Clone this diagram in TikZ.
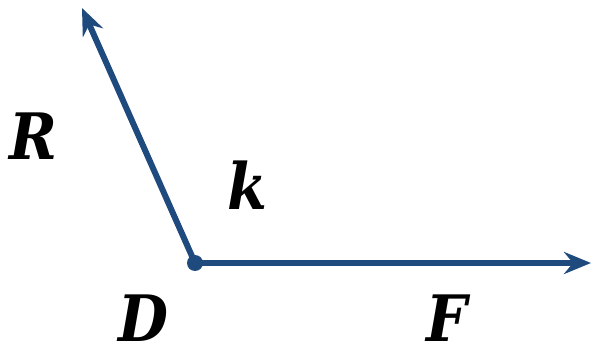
\documentclass[tikz,border=0pt]{standalone}
\usepackage{fontspec}
\setmainfont{DejaVu Serif Condensed}
\usetikzlibrary{arrows.meta}
\definecolor{lineblue}{RGB}{31,74,126}
\begin{document}
\begin{tikzpicture}[x=1pt,y=-1pt,
  ray/.style={draw=lineblue,line width=6pt,-{Stealth[length=27pt,width=22pt,inset=9pt]}},
  lab/.style={font=\fontsize{64}{64}\selectfont\bfseries\itshape,inner sep=0pt,text depth=0pt}]
\useasboundingbox (0,0) rectangle (591,352);
\coordinate (d) at (195,263);
\coordinate (r) at (82,8);
\coordinate (f) at (591,263);
\draw[ray] (d) -- (r);
\draw[ray] (d) -- (f);
\fill[lineblue] (d) circle (8pt);
\node[lab] (lr) at (33,136) {R};
\node[lab] (lk) at (247,185) {k};
\node[lab] (ld) at (143,318) {D};
\node[lab] (lf) at (447,318) {F};
\end{tikzpicture}
\end{document}
